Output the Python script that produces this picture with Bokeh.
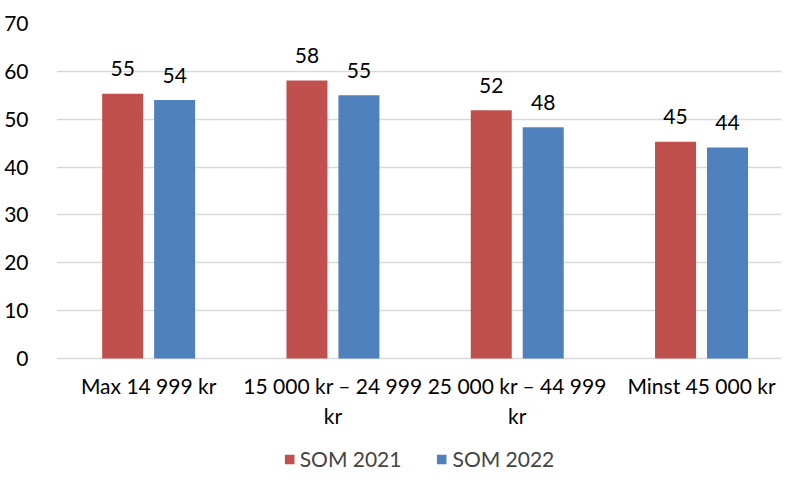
from bokeh.plotting import figure
from bokeh.models import ColumnDataSource, Range1d, FixedTicker, Legend, LegendItem
from bokeh.core.properties import value
from bokeh.embed import file_html
from bokeh.resources import INLINE

categories = ["Max 14 999 kr", "15 000 kr – 24 999\nkr", "25 000 kr – 44 999\nkr", "Minst 45 000 kr"]
series_names = ["SOM 2021", "SOM 2022"]
som_2021 = [55.3, 58.1, 51.9, 45.3]
som_2022 = [54.0, 55.0, 48.3, 44.1]
y_ticks = [0, 10, 20, 30, 40, 50, 60, 70]

FONT = "Lato"
RED = "#C0504D"
BLUE = "#4F81BD"
FS = "21px"

xc = [i + 0.5 for i in range(len(categories))]
off = 0.141
bw = 0.2225

src21 = ColumnDataSource(dict(x=[v - off for v in xc], top=som_2021,
                              lab=[str(round(v)) for v in som_2021]))
src22 = ColumnDataSource(dict(x=[v + off for v in xc], top=som_2022,
                              lab=[str(round(v)) for v in som_2022]))

# frame covers plot area plus the space below zero used by tick labels and legend
p = figure(frame_width=725, frame_height=448, output_backend="svg", toolbar_location=None,
           x_range=Range1d(0, 3.934), y_range=Range1d(-23.6, 70),
           min_border_left=56, min_border_right=0, min_border_top=23, min_border_bottom=0)
p.outline_line_color = None
p.background_fill_color = "white"
p.border_fill_color = "white"

r1 = p.vbar(x="x", top="top", bottom=0, width=bw, source=src21, fill_color=RED, line_color=None)
r2 = p.vbar(x="x", top="top", bottom=0, width=bw, source=src22, fill_color=BLUE, line_color=None)

for s in (src21, src22):
    p.text(x="x", y="top", text="lab", source=s, text_align="center", text_baseline="alphabetic",
           y_offset=-25, text_font=value(FONT), text_font_size=FS, text_color="#000000")

p.xgrid.grid_line_color = None
p.ygrid.ticker = FixedTicker(ticks=y_ticks)
p.ygrid.grid_line_color = "#D9D9D9"
p.ygrid.grid_line_width = 1.5

p.yaxis.ticker = FixedTicker(ticks=y_ticks)
p.yaxis.axis_line_color = None
p.yaxis.major_tick_line_color = None
p.yaxis.minor_tick_line_color = None
p.yaxis.major_label_standoff = 22
p.yaxis.major_label_text_font = FONT
p.yaxis.major_label_text_font_size = FS
p.yaxis.major_label_text_color = "#000000"

p.xaxis.fixed_location = 0
p.xaxis.ticker = FixedTicker(ticks=xc)
p.xaxis.major_label_overrides = {x: c for x, c in zip(xc, categories)}
p.xaxis.axis_line_color = None
p.xaxis.major_tick_line_color = None
p.xaxis.minor_tick_line_color = None
p.xaxis.major_tick_out = 0
p.xaxis.major_tick_in = 0
p.xaxis.major_label_standoff = 14
p.xaxis.major_label_text_font = FONT
p.xaxis.major_label_text_font_size = FS
p.xaxis.major_label_text_color = "#000000"

legend = Legend(items=[LegendItem(label=series_names[0], renderers=[r1]),
                       LegendItem(label=series_names[1], renderers=[r2])],
                orientation="horizontal", location="bottom_center",
                label_text_font=FONT, label_text_font_size=FS,
                glyph_width=12, glyph_height=12, spacing=34, label_standoff=5,
                border_line_color=None, background_fill_alpha=0, padding=0, margin=0)
p.add_layout(legend, "center")

open("out.html", "w").write(file_html(p, INLINE))
